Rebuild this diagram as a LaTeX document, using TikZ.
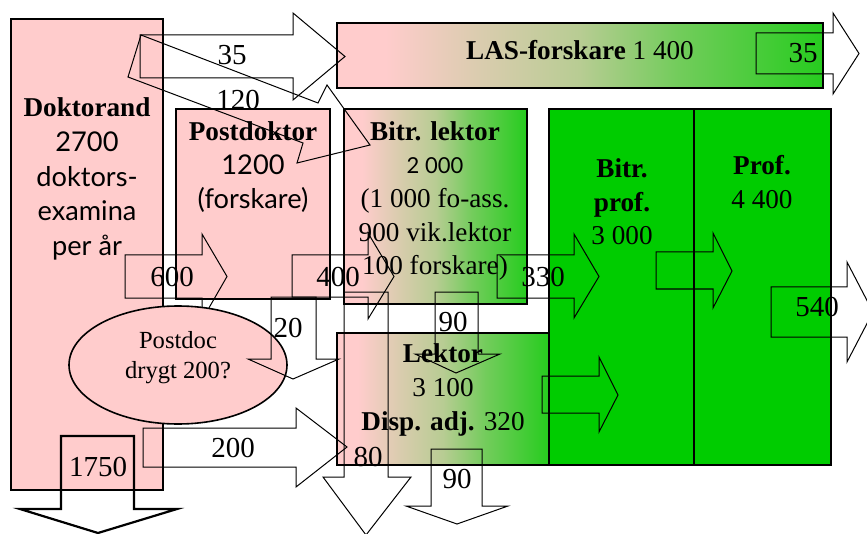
\documentclass[tikz,border=0pt]{standalone}
\usepackage{fontspec}
\setmainfont{Liberation Serif}
\newfontfamily\optima{Lato}

\definecolor{pinkfill}{HTML}{FFCCCC}
\definecolor{greenfill}{HTML}{00CC00}
\colorlet{mixA}{pinkfill!85!greenfill}
\colorlet{mixB}{pinkfill!72!greenfill}
\colorlet{mixC}{pinkfill!45!greenfill}
\colorlet{mixD}{pinkfill!15!greenfill}
\pgfdeclarehorizontalshading{pinkgreen}{100bp}{color(0bp)=(pinkfill); color(30bp)=(pinkfill); color(40bp)=(mixA); color(50bp)=(mixB); color(60bp)=(mixC); color(75bp)=(mixD); color(100bp)=(mixD)}

\tikzset{
  box/.style={draw=black,line width=0.8pt},
  blockarrow/.style={draw=black,line width=0.5pt,line join=miter},
  txt/.style={inner sep=0pt,align=center,font=\fontsize{13.6}{16.8}\selectfont},
  num/.style={inner sep=0pt,font=\fontsize{14.5}{17}\selectfont}
}

\begin{document}
\begin{tikzpicture}[x=0.5pt,y=-0.5pt]
  \useasboundingbox (0,0) rectangle (867,534);
  \clip (0,0) rectangle (867,534);
  % boxes
  \draw[box,fill=pinkfill] (11,19) rectangle (163,490);
  \draw[box,fill=pinkfill] (176,109) rectangle (330,299);
  \draw[box,shading=pinkgreen] (337,23) rectangle (823,88);
  \draw[box,shading=pinkgreen] (344,109) rectangle (527,304);
  \draw[box,fill=greenfill] (549,109) rectangle (694,465);
  \draw[box,fill=greenfill] (694,109) rectangle (831,465);
  \draw[box,shading=pinkgreen] (337,333) rectangle (549,465);
  % flows to the right
  \draw[blockarrow] (140,35) -- (293,35) -- (293,13) -- (345,56.5) -- (293,100) -- (293,78) -- (140,78) -- cycle;
  \draw[blockarrow] (141,35) -- (318,103) -- (327,85) -- (370,145) -- (297,163) -- (303,143) -- (128,77) -- cycle;
  \draw[blockarrow] (125,255) -- (202,255) -- (202,234) -- (227,276.5) -- (202,320) -- (202,298) -- (125,298) -- cycle;
  \draw[blockarrow] (292,255) -- (368,255) -- (368,233) -- (394,276.5) -- (368,319) -- (368,297) -- (292,297) -- cycle;
  \draw[blockarrow] (497,255) -- (574,255) -- (574,234) -- (599,276.5) -- (574,318) -- (574,298) -- (497,298) -- cycle;
  \draw[blockarrow] (656,252) -- (713,252) -- (713,233) -- (732,271) -- (713,308) -- (713,289) -- (656,289) -- cycle;
  \draw[blockarrow] (542,376) -- (599,376) -- (599,357) -- (618,395) -- (599,432) -- (599,413) -- (542,413) -- cycle;
  \draw[blockarrow] (771,287) -- (847,287) -- (847,262) -- (873,312) -- (847,362) -- (847,337) -- (771,337) -- cycle;
  \draw[blockarrow] (756,33) -- (833,33) -- (833,13) -- (859,53.5) -- (833,94) -- (833,74) -- (756,74) -- cycle;
  \draw[blockarrow] (143,428) -- (296,428) -- (296,408) -- (347,447) -- (296,487) -- (296,467) -- (143,467) -- cycle;
  % flows downwards
  \draw[blockarrow] (344,292) -- (388,292) -- (388,477) -- (411,477) -- (366,535) -- (323,477) -- (344,477) -- cycle;
  \draw[blockarrow] (435,292) -- (478,292) -- (478,354) -- (500,354) -- (456,373) -- (415,354) -- (435,354) -- cycle;
  \draw[blockarrow] (431,449) -- (482,449) -- (482,506) -- (508,506) -- (457,524) -- (406,506) -- (431,506) -- cycle;
  \draw[blockarrow,line width=1.1pt] (61,436) -- (134,436) -- (134,509) -- (177,509) -- (98,533) -- (20,509) -- (61,509) -- cycle;
  % postdoc pool
  \draw[box,fill=pinkfill] (178,365) ellipse [x radius=109,y radius=59];
  \draw[blockarrow] (271,297) -- (316,297) -- (316,359) -- (339,359) -- (293,379) -- (248,359) -- (271,359) -- cycle;
  % texts
  \node[txt,font=\fontsize{13.6}{17.3}\selectfont] (doktorand) at (87,179) {{\bfseries Doktorand}\\{\optima 2700}\\{\optima doktors-}\\{\optima examina}\\{\optima per år}};
  \node[txt] (postdoktor) at (253,167) {{\bfseries Postdoktor}\\{\optima 1200}\\{\optima (forskare)}};
  \node[txt] (las) at (580,50) {{\bfseries LAS-forskare} 1 400};
  \node[txt] (bitrlektor) at (435,201) {{\bfseries Bitr. lektor}\\{\optima\fontsize{11}{16.8}\selectfont 2 000}\\(1 000 fo-ass.\\900 vik.lektor\\100 forskare)};
  \node[txt] (bitrprof) at (622,202) {{\bfseries Bitr.}\\{\bfseries prof.}\\3 000};
  \node[txt] (prof) at (762,182) {{\bfseries Prof.}\\4 400};
  \node[txt] (lektor) at (443,390) {{\bfseries Lektor}\\3 100\\{\bfseries Disp. adj.} 320};
  \node[txt,font=\fontsize{12.3}{15}\selectfont] (postdoc) at (178,358) {Postdoc\\drygt 200?};
  % flow figures
  \node[num] (n35a) at (232,55) {35};
  \node[num] (n120) at (238,100) {120};
  \node[num] (n600) at (172,277) {600};
  \node[num] (n400) at (338,277) {400};
  \node[num] (n330) at (543,277) {330};
  \node[num] (n20) at (288,328) {20};
  \node[num] (n200) at (233,448) {200};
  \node[num] (n80) at (368,457) {80};
  \node[num] (n1750) at (98,467) {1750};
  \node[num] (n90a) at (453,322) {90};
  \node[num] (n90b) at (457,479) {90};
  \node[num] (n540) at (817,307) {540};
  \node[num] (n35b) at (803,53) {35};
\end{tikzpicture}
\end{document}
